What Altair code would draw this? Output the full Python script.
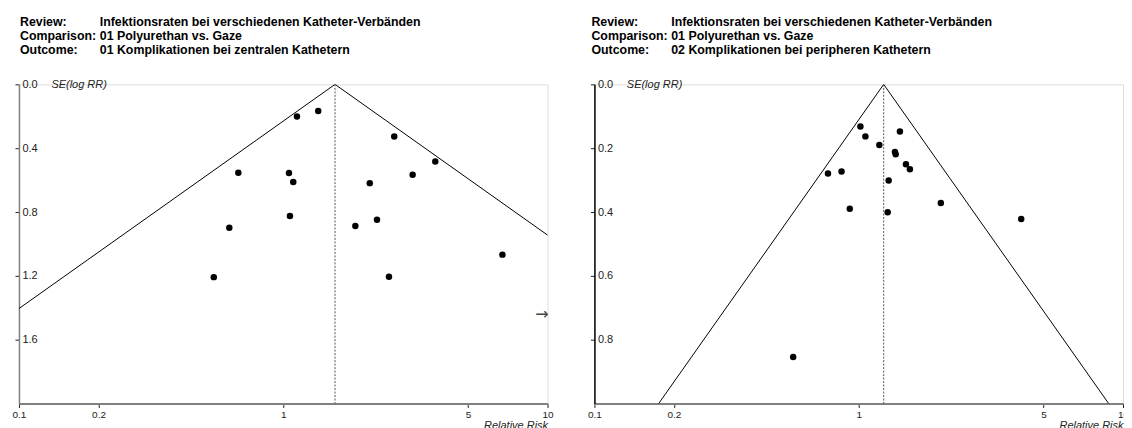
import math
import altair as alt
import pandas as pd

# ---------------- data ----------------
header_labels = ["Review:", "Comparison:", "Outcome:"]
header_left = [
    "Infektionsraten bei verschiedenen Katheter-Verbänden",
    "01 Polyurethan vs. Gaze",
    "01 Komplikationen bei zentralen Kathetern",
]
header_right = [
    "Infektionsraten bei verschiedenen Katheter-Verbänden",
    "01 Polyurethan vs. Gaze",
    "02 Komplikationen bei peripheren Kathetern",
]

x_ticks = [0.1, 0.2, 1, 5, 10]

left_rr = [1.127, 1.356, 2.63, 3.76, 0.676, 1.051, 1.091, 3.087,
           2.125, 0.625, 1.060, 1.874, 2.263, 0.546, 2.512, 6.75]
left_se = [0.202, 0.167, 0.327, 0.483, 0.554, 0.556, 0.6125, 0.567,
           0.619, 0.898, 0.825, 0.8875, 0.848, 1.208, 1.206, 1.067]
left_pooled = 1.57
left_offscale_rr = [10]
left_offscale_se = [1.4375]
left_se_max = 2.0
left_yticks = [0.0, 0.4, 0.8, 1.2, 1.6]

right_rr = [1.015, 1.060, 1.432, 1.197, 1.371, 1.38, 1.509, 1.562,
            0.765, 0.861, 1.298, 0.925, 1.287, 2.045, 4.12, 0.565]
right_se = [0.132, 0.163, 0.148, 0.190, 0.2115, 0.219, 0.25, 0.266,
            0.279, 0.273, 0.301, 0.390, 0.401, 0.372, 0.422, 0.854]
right_pooled = 1.243
right_se_max = 1.0
right_yticks = [0.0, 0.2, 0.4, 0.6, 0.8]

FONT = "Liberation Sans"
W, H = 530, 320


def panel(rr, se, pooled, se_max, yticks, ycolor, hdr_values, lab_x, val_x,
          off_rr=None, off_se=None):
    xs = alt.Scale(type="log", domain=[0.1, 10], nice=False)
    ys = alt.Scale(domain=[0, se_max], reverse=True, nice=False, zero=False)
    xax = alt.Axis(
        values=x_ticks, format="~g", title="Relative Risk",
        titleFont=FONT, titleFontSize=11, titleFontStyle="italic",
        titleFontWeight="normal", titleColor="#222", titleAnchor="end",
        titlePadding=0,
        labelFont=FONT, labelFontSize=10, labelColor="#222", labelPadding=2,
        labelFlush=False, labelOverlap=False,
        tickSize=4, tickColor="#222", tickWidth=1,
        domainColor="#808080", domainWidth=2, grid=False,
    )
    yax = alt.Axis(
        values=yticks, format=".1f", title="SE(log RR)",
        titleFont=FONT, titleFontSize=11, titleFontStyle="italic",
        titleFontWeight="normal", titleColor="#222", titleAngle=0,
        titleAlign="left", titleBaseline="middle", titleX=32, titleY=0,
        labelFont=FONT, labelFontSize=11, labelColor="#222",
        labelAlign="left", labelBaseline="middle", labelPadding=-7,
        labelFlush=False, labelOverlap=False,
        tickSize=4, tickColor="#222", tickWidth=1,
        domainColor=ycolor, domainWidth=1.5, grid=False,
    )

    def X(field):
        return alt.X(field, type="quantitative", scale=xs, axis=xax)

    def Y(field):
        return alt.Y(field, type="quantitative", scale=ys, axis=yax)

    pts = pd.DataFrame({"rr": rr, "se": se})
    lo = pooled * math.exp(-1.96 * se_max)
    hi = pooled * math.exp(1.96 * se_max)
    funnel = pd.DataFrame({"rr": [lo, pooled, hi], "se": [se_max, 0.0, se_max],
                           "i": [0, 1, 2]})
    pooled_df = pd.DataFrame({"rr": [pooled], "se": [0.0], "se2": [se_max]})
    one = pd.DataFrame({"rr": [pooled], "se": [0.0]})

    layers = [
        alt.Chart(funnel).mark_line(color="black", strokeWidth=1, clip=True)
        .encode(x=X("rr"), y=Y("se"), order=alt.Order("i:Q")),
        alt.Chart(pooled_df).mark_rule(color="#555", strokeWidth=1,
                                      strokeDash=[2, 1.5])
        .encode(x=X("rr"), y=Y("se"), y2="se2"),
        alt.Chart(pts).mark_circle(color="black", opacity=1, size=42)
        .encode(x=X("rr"), y=Y("se")),
        alt.Chart(one).mark_text(text=header_labels, align="left",
                                 baseline="middle", font=FONT, fontSize=12.4,
                                 fontWeight="bold", lineHeight=14.5,
                                 color="black")
        .encode(x=alt.value(lab_x), y=alt.value(-63)),
        alt.Chart(one).mark_text(text=hdr_values, align="left",
                                 baseline="middle", font=FONT, fontSize=12.4,
                                 fontWeight="bold", lineHeight=14.5,
                                 color="black")
        .encode(x=alt.value(val_x), y=alt.value(-63)),
    ]
    if off_rr is not None:
        off = pd.DataFrame({"rr": off_rr, "se": off_se})
        layers.append(
            alt.Chart(off).mark_text(text="→", align="right", baseline="middle",
                                     font="DejaVu Sans", fontSize=16,
                                     color="#444", dx=1)
            .encode(x=X("rr"), y=Y("se"))
        )
    return alt.layer(*layers).properties(width=W, height=H)


left = panel(left_rr, left_se, left_pooled, left_se_max, left_yticks, "#808080",
             header_left, 1, 81, left_offscale_rr, left_offscale_se)
right = panel(right_rr, right_se, right_pooled, right_se_max, right_yticks,
              "black", header_right, -3, 77)

chart = (
    alt.hconcat(left, right, spacing=47, bounds="flush")
    .properties(padding={"left": 3, "top": 6, "right": -6, "bottom": 0})
    .configure_view(stroke=None)
    .configure(background="white")
)

chart.save("out.html", embed_options={"renderer": "svg", "actions": False})
